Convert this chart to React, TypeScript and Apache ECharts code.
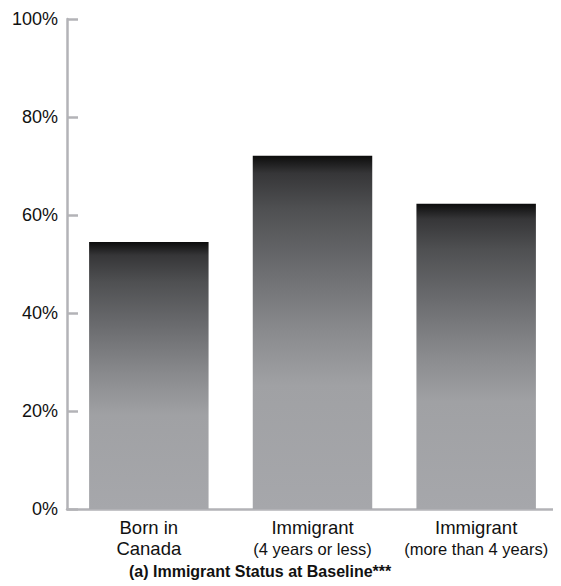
import React, { useEffect, useRef } from "react";
import * as echarts from "echarts";

const categories = ["Born in\nCanada", "Immigrant\n(4 years or less)", "Immigrant\n(more than 4 years)"];
const shares = [54.5, 72.1, 62.3];
const yTicks = [0, 20, 40, 60, 80, 100];
const caption = "(a) Immigrant Status at Baseline***";

const FONT = "'Liberation Sans', Arial, Helvetica, sans-serif";
const AXIS_GRAY = "#b3b3b7";

// Lines in parentheses are set a little smaller than the category names.
function formatCategory(label: string): string {
  return label
    .split("\n")
    .map((line) => (line.startsWith("(") ? `{note|${line}}` : `{name|${line}}`))
    .join("\n");
}

export default function App() {
  const ref = useRef<HTMLDivElement>(null);

  useEffect(() => {
    if (!ref.current) return;
    const chart = echarts.init(ref.current, null, { renderer: "svg" });

    const barFill = new echarts.graphic.LinearGradient(0, 0, 0, 1, [
      { offset: 0, color: "#0c0c0c" },
      { offset: 0.05, color: "#363638" },
      { offset: 0.15, color: "#4f5052" },
      { offset: 0.3, color: "#68696c" },
      { offset: 0.5, color: "#8a8b8e" },
      { offset: 0.65, color: "#a0a1a4" },
      { offset: 1, color: "#a6a7ab" },
    ]);

    chart.setOption({
      animation: false,
      backgroundColor: "#ffffff",
      textStyle: { fontFamily: FONT },
      grid: { left: 67, right: 3, top: 19, bottom: 77, containLabel: false },
      xAxis: {
        type: "category",
        data: categories,
        axisLine: { show: true, lineStyle: { color: AXIS_GRAY, width: 2.5 } },
        axisTick: { show: false },
        axisLabel: {
          color: "#111111",
          fontFamily: FONT,
          margin: 8,
          interval: 0,
          formatter: (v: string) => formatCategory(v),
          rich: {
            name: { fontSize: 18.5, lineHeight: 21, color: "#111111", fontFamily: FONT },
            note: { fontSize: 16.5, lineHeight: 21, color: "#111111", fontFamily: FONT },
          },
        },
      },
      yAxis: {
        type: "value",
        min: yTicks[0],
        max: yTicks[yTicks.length - 1],
        interval: 20,
        axisLine: { show: true, lineStyle: { color: AXIS_GRAY, width: 2.5 } },
        axisTick: {
          show: true,
          inside: true,
          length: 11,
          lineStyle: { color: AXIS_GRAY, width: 2.5 },
        },
        splitLine: { show: false },
        axisLabel: {
          color: "#111111",
          fontSize: 18,
          fontFamily: FONT,
          margin: 9,
          padding: [4, 0, 0, 0],
          formatter: (v: number) => `${v}%`,
        },
      },
      series: [
        {
          type: "bar",
          data: shares,
          barCategoryGap: "27%",
          itemStyle: { color: barFill },
        },
      ],
      graphic: [
        {
          type: "text",
          left: 129,
          top: 563,
          style: {
            text: caption,
            fill: "#111111",
            font: `bold 16px ${FONT}`,
          },
        },
      ],
    });

    return () => chart.dispose();
  }, []);

  return <div ref={ref} style={{ width: 561, height: 586, marginLeft: -8, marginTop: -8 }} />;
}
